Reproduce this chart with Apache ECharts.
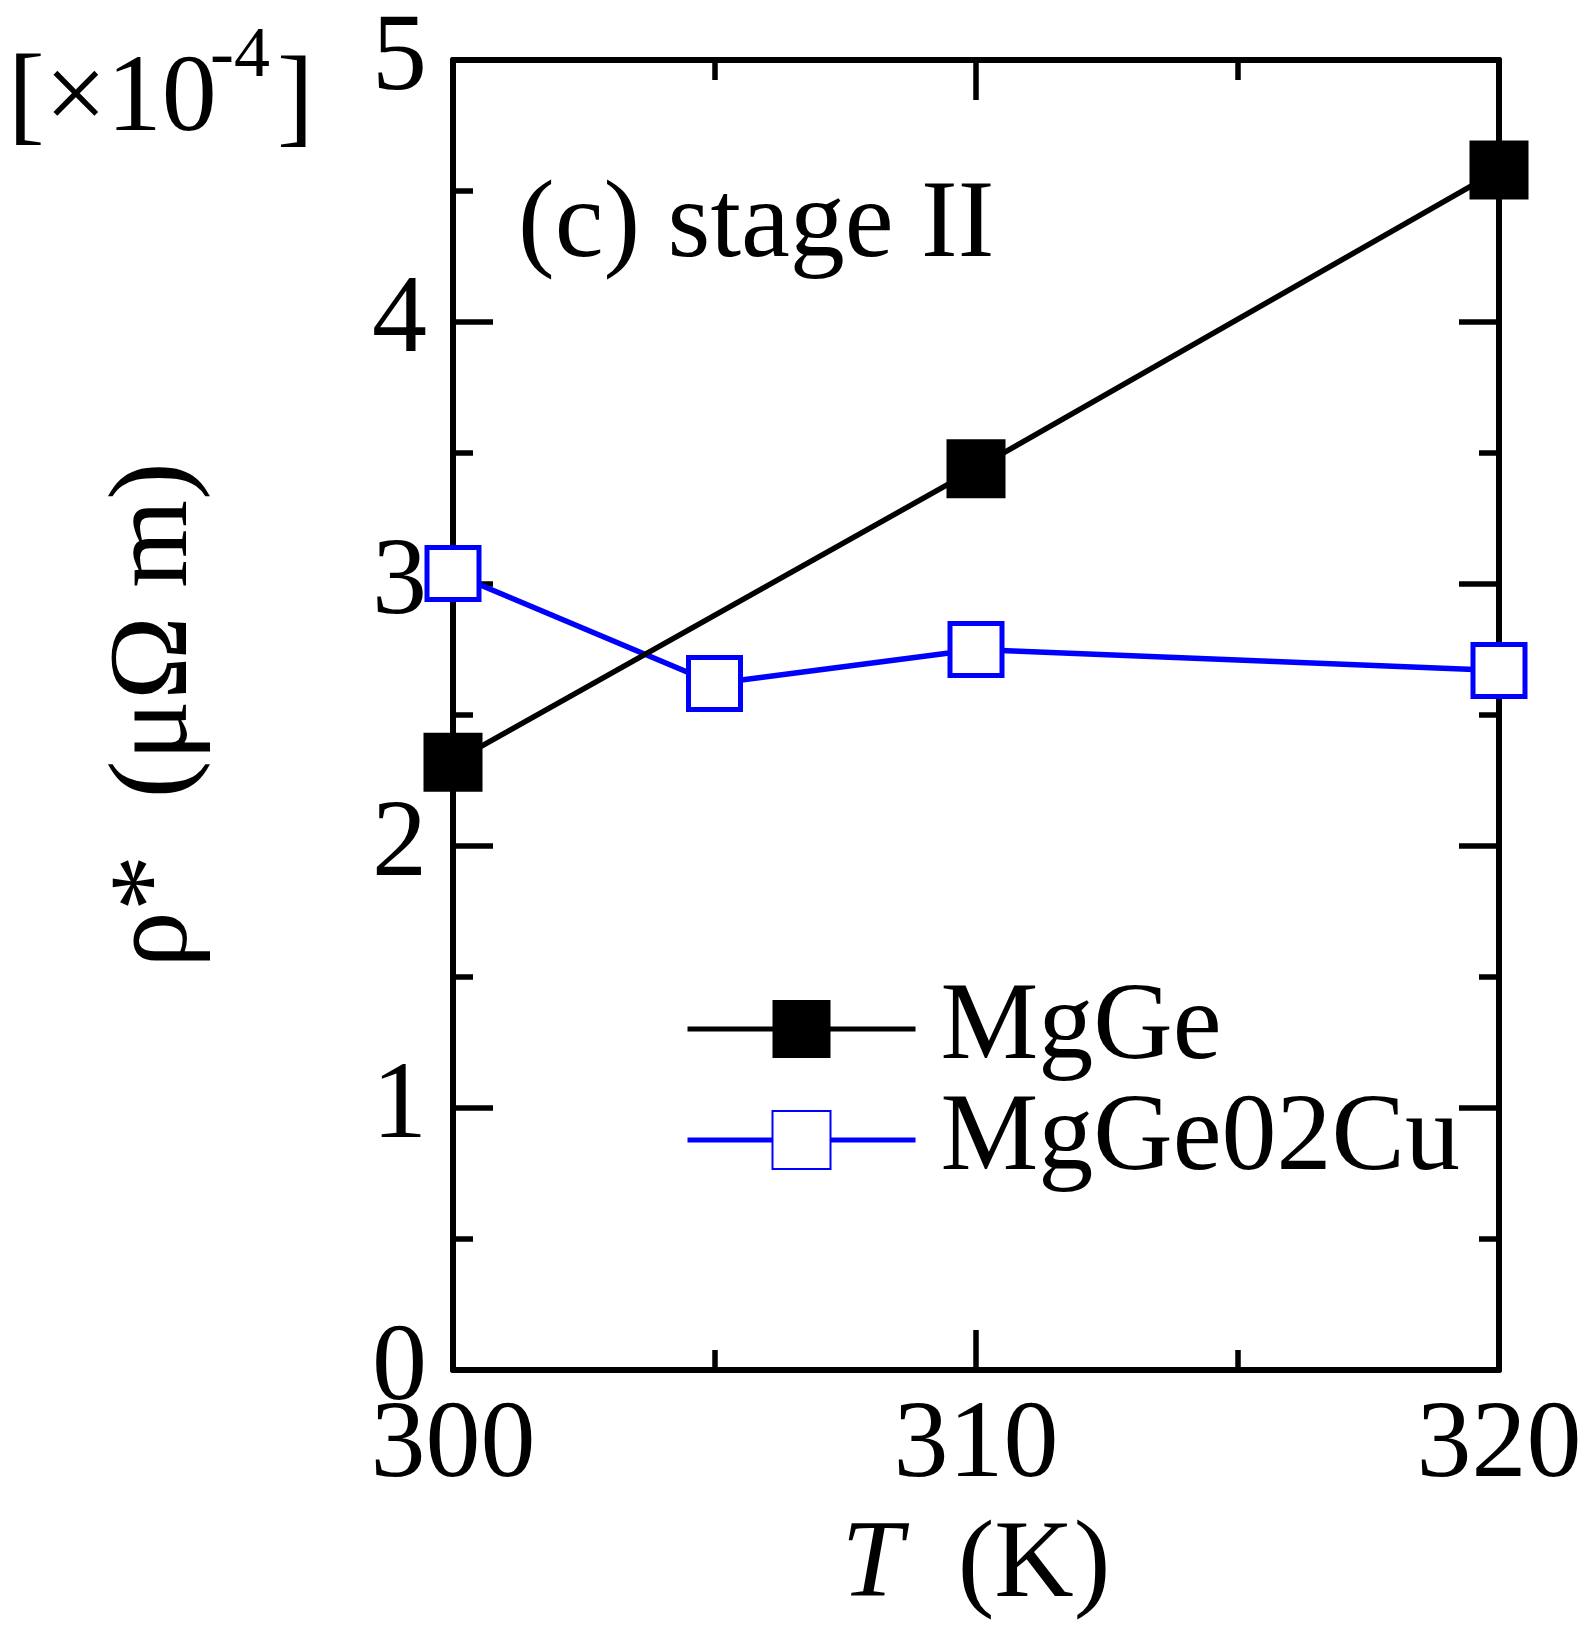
<!DOCTYPE html>
<html>
<head>
<meta charset="utf-8">
<script src="https://cdn.jsdelivr.net/npm/echarts@6/dist/echarts.min.js"></script>
<style>
html,body{margin:0;padding:0;background:#fff;}
#chart{width:1584px;height:1627px;}
</style>
</head>
<body>
<div id="chart"></div>
<script>
// Data
const mgGeT = [300, 310, 320];
const mgGeVals = [2.32, 3.44, 4.58];
const mgGeCuT = [300, 305, 310, 320];
const mgGeCuVals = [3.04, 2.62, 2.75, 2.67];
const seriesNames = ['MgGe', 'MgGe02Cu'];
const xTicks = [300, 310, 320];
const yTicks = [0, 1, 2, 3, 4, 5];

const FONT = 'Liberation Serif';
const FS = 110;

const chart = echarts.init(document.getElementById('chart'), null, {renderer: 'canvas'});

const axisLineStyle = {color: '#000', width: 6};
const tickCommon = {show: true, inside: true, length: 40, lineStyle: {color: '#000', width: 5.5}};
const minorCommon = {show: true, splitNumber: 2, length: 20, lineStyle: {color: '#000', width: 5.5}};

const option = {
  backgroundColor: '#fff',
  animation: false,
  grid: {left: 453, right: 85, top: 60, bottom: 257, containLabel: false, outerBoundsMode: 'none'},
  xAxis: [
    {
      type: 'value', min: xTicks[0], max: xTicks[xTicks.length - 1], interval: 10,
      position: 'bottom',
      axisLine: {show: true, onZero: false, lineStyle: axisLineStyle},
      axisTick: tickCommon,
      minorTick: minorCommon,
      splitLine: {show: false},
      axisLabel: {show: true, margin: 22, color: '#000', fontFamily: FONT, fontSize: FS,
        showMinLabel: true, showMaxLabel: true, hideOverlap: false},
      name: '{i|T}  (K)',
      nameLocation: 'middle',
      nameGap: 142,
      nameTextStyle: {color: '#000', fontFamily: FONT, fontSize: FS,
        rich: {i: {fontStyle: 'italic', fontFamily: FONT, fontSize: FS, color: '#000'}}}
    },
    {
      type: 'value', min: xTicks[0], max: xTicks[xTicks.length - 1], interval: 10,
      position: 'top',
      axisLine: {show: true, onZero: false, lineStyle: axisLineStyle},
      axisTick: tickCommon,
      minorTick: minorCommon,
      splitLine: {show: false},
      axisLabel: {show: false}
    }
  ],
  yAxis: [
    {
      type: 'value', min: yTicks[0], max: yTicks[yTicks.length - 1], interval: 1,
      position: 'left',
      axisLine: {show: true, onZero: false, lineStyle: axisLineStyle},
      axisTick: tickCommon,
      minorTick: minorCommon,
      splitLine: {show: false},
      axisLabel: {show: true, margin: 26, color: '#000', fontFamily: FONT, fontSize: FS,
        showMinLabel: true, showMaxLabel: true, hideOverlap: false},
      name: 'ρ*  (μΩ m)',
      nameLocation: 'middle',
      nameRotate: 90,
      nameGap: 240,
      nameTextStyle: {color: '#000', fontFamily: FONT, fontSize: 113}
    },
    {
      type: 'value', min: yTicks[0], max: yTicks[yTicks.length - 1], interval: 1,
      position: 'right',
      axisLine: {show: true, onZero: false, lineStyle: axisLineStyle},
      axisTick: tickCommon,
      minorTick: minorCommon,
      splitLine: {show: false},
      axisLabel: {show: false}
    }
  ],
  legend: {
    show: true,
    orient: 'vertical',
    left: 685, top: 974,
    padding: 0,
    itemWidth: 228,
    itemHeight: 72.5,
    itemGap: 1,
    data: seriesNames,
    lineStyle: {width: 5},
    textStyle: {color: '#000', fontFamily: FONT, fontSize: FS, padding: [0, 0, 0, 20]}
  },
  graphic: [
    {type: 'text', x: 8, y: 101, style: {text: '[×10', fontFamily: FONT, fontSize: FS, fill: '#000', align: 'left', verticalAlign: 'middle'}},
    {type: 'text', x: 210, y: 57, style: {text: '-4', fontFamily: FONT, fontSize: 72, fill: '#000', align: 'left', verticalAlign: 'middle'}},
    {type: 'text', x: 277, y: 103, style: {text: ']', fontFamily: FONT, fontSize: FS, fill: '#000', align: 'left', verticalAlign: 'middle'}},
    {type: 'text', x: 518, y: 227, style: {text: '(c) stage II', fontFamily: FONT, fontSize: FS, fill: '#000', align: 'left', verticalAlign: 'middle'}}
  ],
  series: [
    {
      name: seriesNames[0],
      type: 'line',
      xAxisIndex: 0, yAxisIndex: 0,
      data: mgGeT.map((t, i) => [t, mgGeVals[i]]),
      symbol: 'rect', symbolSize: 59,
      lineStyle: {color: '#000', width: 5.5},
      itemStyle: {color: '#000', borderWidth: 0},
      clip: false,
      z: 4
    },
    {
      name: seriesNames[1],
      type: 'line',
      xAxisIndex: 0, yAxisIndex: 0,
      data: mgGeCuT.map((t, i) => [t, mgGeCuVals[i]]),
      symbol: 'rect', symbolSize: 52,
      lineStyle: {color: '#0000ff', width: 5.5},
      itemStyle: {color: '#ffffff', borderColor: '#0000ff', borderWidth: 5},
      clip: false,
      z: 3
    }
  ]
};
chart.setOption(option);
</script>
</body>
</html>
